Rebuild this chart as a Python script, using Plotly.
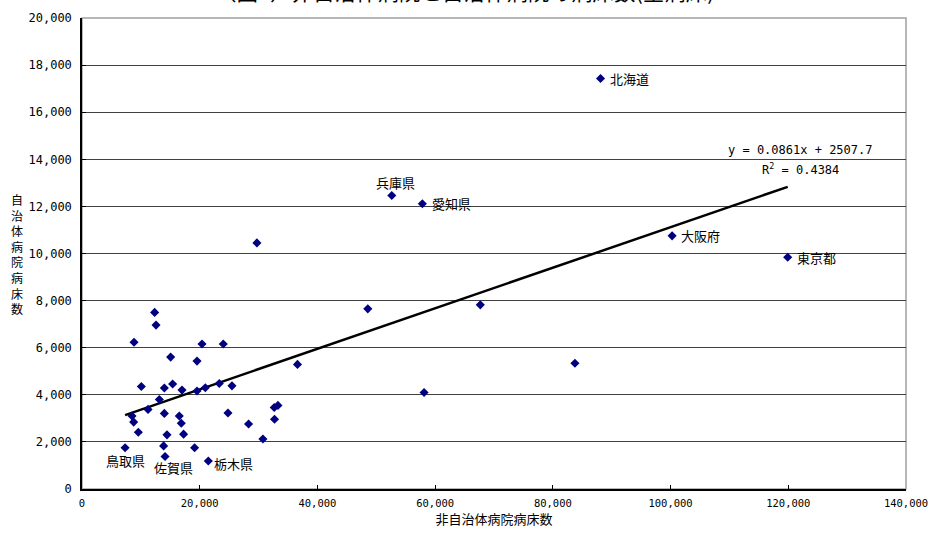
import plotly.graph_objects as go

# prefecture data: non-municipal hospital beds (x) vs municipal hospital beds (y)
names = ['北海道', '大阪府', '東京都', '兵庫県', '愛知県', '', '', '', '', '', '',
         '', '', '', '', '', '', '', '', '', '', '', '', '', '', '', '栃木県',
         '', '', '', '', '', '', '', '', '', '', '', '', '', '', '', '', '',
         '鳥取県', '', '佐賀県']
non_muni_beds = [88100, 100260, 119900, 52630, 57830, 48560, 67670, 83750, 58120, 29720, 36610,
                 24000, 20390, 19540, 23320, 25480, 20950, 19540, 16990, 24800, 28300, 32660,
                 33290, 32710, 30740, 19130, 21460, 12340, 12580, 8840, 15060, 10080, 13990,
                 15400, 13140, 11220, 8500, 8780, 13990, 16530, 16870, 9570, 14440, 17260,
                 7320, 13870, 14110]
muni_beds = [17430, 10750, 9840, 12460, 12110, 7650, 7820, 5340, 4100, 10450, 5290,
             6160, 6160, 5430, 4480, 4380, 4300, 4160, 4200, 3230, 2760, 3460,
             3550, 2960, 2120, 1750, 1190, 7500, 6960, 6230, 5600, 4350, 4290,
             4460, 3800, 3380, 3100, 2840, 3210, 3100, 2790, 2410, 2300, 2330,
             1750, 1830, 1380]

# linear trendline shown on the chart
slope = 0.0861
intercept = 2507.7
eq_text = 'y = 0.0861x + 2507.7'
r2_text = 'R<sup>2</sup> = 0.4384'

x_ticks = [0, 20000, 40000, 60000, 80000, 100000, 120000, 140000]
y_ticks = [0, 2000, 4000, 6000, 8000, 10000, 12000, 14000, 16000, 18000, 20000]

mono = 'DejaVu Sans Mono'
jp = 'Noto Sans CJK JP'

fig = go.Figure()

trend_x = [min(non_muni_beds), max(non_muni_beds)]
trend_y = [slope * v + intercept for v in trend_x]
fig.add_trace(go.Scatter(x=trend_x, y=trend_y, mode='lines',
                         line=dict(color='black', width=2.5), hoverinfo='skip'))

fig.add_trace(go.Scatter(x=non_muni_beds, y=muni_beds, mode='markers', text=names,
                         marker=dict(symbol='diamond', size=7, color='#000080')))

# point labels: (name, xshift, yshift, xanchor)
label_pos = {
    '北海道': (7, 0, 'left'),
    '大阪府': (7, 0, 'left'),
    '東京都': (7, 0, 'left'),
    '兵庫県': (4, 13, 'center'),
    '愛知県': (8, 0, 'left'),
    '栃木県': (4, -3, 'left'),
    '鳥取県': (0, -13, 'center'),
    '佐賀県': (8, -11, 'center'),
}
for n, xv, yv in zip(names, non_muni_beds, muni_beds):
    if n:
        xs, ys, xa = label_pos[n]
        fig.add_annotation(x=xv, y=yv, text=n, showarrow=False, xanchor=xa, yanchor='middle',
                           xshift=xs, yshift=ys, font=dict(family=jp, size=13, color='black'))

fig.add_annotation(x=122100, y=14380, text=eq_text, showarrow=False,
                   font=dict(family=mono, size=12, color='black'))
fig.add_annotation(x=122100, y=13580, text=r2_text, showarrow=False,
                   font=dict(family=mono, size=12, color='black'))

# title (partly cut off at the top edge)
fig.add_annotation(x=0.5, y=1, xref='paper', yref='paper', yanchor='bottom', yshift=10,
                   xshift=-30, text='（図5）非自治体病院と自治体病院の病床数(全病床)',
                   showarrow=False, font=dict(family=jp, size=21.5, color='black'))

# y axis title, stacked vertically
fig.add_annotation(x=0, y=0.5, xref='paper', yref='paper', xanchor='center', xshift=-65,
                   text='<br>'.join('自治体病院病床数'), showarrow=False,
                   font=dict(family=jp, size=12, color='black'))

fig.add_shape(type='rect', xref='paper', yref='paper', x0=0, x1=1, y0=0, y1=1,
              line=dict(color='#a0a0a0', width=1.5), layer='below')

fig.update_layout(
    width=933, height=534,
    margin=dict(l=82, r=27, t=18, b=45),
    paper_bgcolor='white', plot_bgcolor='white',
    showlegend=False,
    xaxis=dict(range=[0, 140000], tickvals=x_ticks, tickformat=',', showgrid=False,
               showline=True, linecolor='black', linewidth=1.5, ticks='inside', ticklen=4,
               tickcolor='black', zeroline=False, automargin=False, ticklabelstandoff=4,
               tickfont=dict(family=mono, size=10.5, color='black'),
               title=dict(text='非自治体病院病床数', font=dict(family=jp, size=13, color='black'),
                          standoff=0)),
    yaxis=dict(range=[0, 20000], tickvals=y_ticks, tickformat=',', showgrid=True,
               gridcolor='#404040', gridwidth=1, showline=True, linecolor='black', linewidth=1.5,
               ticks='inside', ticklen=4, tickcolor='black', zeroline=False, automargin=False,
               ticklabelstandoff=6, tickfont=dict(family=mono, size=12, color='black')),
)

fig.write_html('out.html', config={'displayModeBar': False},
               post_script="document.body.style.margin='0';document.body.style.overflow='hidden';")
